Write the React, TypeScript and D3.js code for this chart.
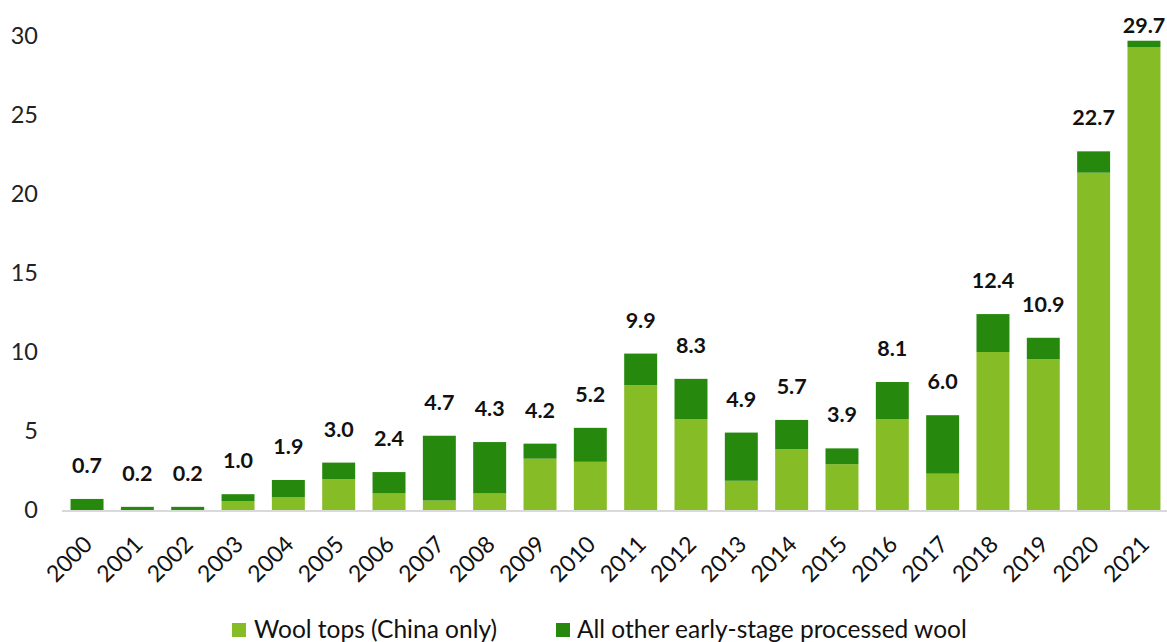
import React from "react";
import * as d3 from "d3";

const years = ["2000","2001","2002","2003","2004","2005","2006","2007","2008","2009","2010","2011","2012","2013","2014","2015","2016","2017","2018","2019","2020","2021"];
const totals = [0.7,0.2,0.2,1.0,1.9,3.0,2.4,4.7,4.3,4.2,5.2,9.9,8.3,4.9,5.7,3.9,8.1,6.0,12.4,10.9,22.7,29.7];
const woolTops = [0,0,0,0.55,0.8,1.95,1.05,0.6,1.05,3.25,3.05,7.9,5.75,1.85,3.85,2.9,5.75,2.3,10.0,9.55,21.35,29.3];
const yTicks = [0,5,10,15,20,25,30];
const seriesNames = ["Wool tops (China only)", "All other early-stage processed wool"];
const colors = ["#86bc25", "#26890d"];

const W = 1167, H = 642;
const FONT = "Lato, 'Liberation Sans', sans-serif";

export default function App() {
  const x = d3.scaleBand<string>().domain(years).range([62, 1169]).paddingInner(0.345).paddingOuter(0.17);
  const y = d3.scaleLinear().domain([0, 30]).range([510, 36]);
  const bw = x.bandwidth();
  return (
    <svg width={W} height={H} style={{ position: "absolute", left: 0, top: 0, background: "#fff" }} fontFamily={FONT}>
      {yTicks.map(t => (
        <text key={t} x={38} y={y(t)} dy="0.36em" textAnchor="end" fontSize={23.5} fill="#222">{t}</text>
      ))}
      {years.map((yr, i) => {
        const x0 = x(yr)!;
        const light = woolTops[i];
        const tot = totals[i];
        return (
          <g key={yr}>
            <rect x={x0} y={y(light)} width={bw} height={y(0) - y(light)} fill={colors[0]} />
            <rect x={x0} y={y(tot)} width={bw} height={y(light) - y(tot)} fill={colors[1]} />
            <text x={x0 + bw / 2} y={Math.max(y(tot) - 26, 33)} textAnchor="middle" fontSize={21.5} fontWeight="bold" fill="#111">{tot.toFixed(1)}</text>
            <text transform={`translate(${x0 + bw / 2 - 5},${534}) rotate(-45)`} textAnchor="end" dy="0.72em" fontSize={23} fill="#111">{yr}</text>
          </g>
        );
      })}
      <line x1={62} x2={1167} y1={y(0) + 1} y2={y(0) + 1} stroke="#d9d9d9" strokeWidth={2} />
      <rect x={232} y={623} width={14} height={14} fill={colors[0]} />
      <text x={254} y={638} fontSize={24.5} fill="#111">{seriesNames[0]}</text>
      <rect x={556} y={623} width={14} height={14} fill={colors[1]} />
      <text x={577} y={638} fontSize={24.5} fill="#111">{seriesNames[1]}</text>
    </svg>
  );
}
